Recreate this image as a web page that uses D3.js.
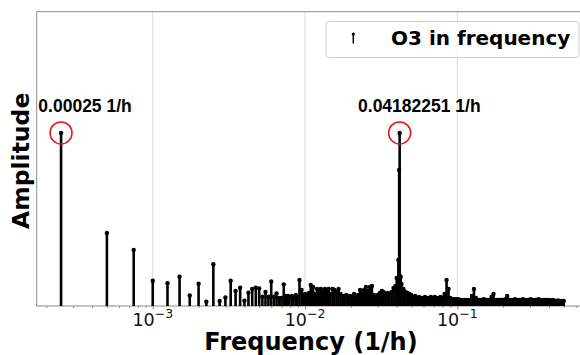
<!DOCTYPE html>
<html>
<head>
<meta charset="utf-8">
<script src="https://cdn.jsdelivr.net/npm/d3@7"></script>
<style>
  html, body { margin: 0; padding: 0; background: #fff; }
  svg { display: block; font-family: "DejaVu Sans", sans-serif; }
</style>
</head>
<body>
<div id="chart"></div>
<script>
// low frequency bins (clearly separated stems)
const lowFreq = [0.00025, 0.0005, 0.00075, 0.001, 0.00125, 0.0015, 0.00175, 0.002, 0.00225, 0.0025,
  0.00275, 0.003, 0.00325, 0.0035, 0.00375, 0.004, 0.00425, 0.0045, 0.00475, 0.005,
  0.00525, 0.0055, 0.00575, 0.006, 0.00625, 0.0065, 0.00675, 0.007, 0.00725];
const lowAmp = [100, 42.2, 32.4, 14.6, 13.1, 16.9, 6.1, 12.9, 2.5, 24.1,
  2.9, 4.9, 14.6, 8.7, 10.6, 3.1, 7.7, 9.8, 10.6, 10.2,
  5.4, 8.1, 5.4, 14.2, 5.4, 7.3, 4.6, 4.6, 12.5];

// dense part of the spectrum
const highFreq = [0.0075, 0.0077, 0.0079, 0.0082, 0.0084, 0.0087, 0.0089, 0.0092, 0.0095, 0.0097,
  0.0100, 0.0103, 0.0106, 0.0109, 0.0113, 0.0116, 0.0120, 0.0123, 0.0127, 0.0131,
  0.0135, 0.0139, 0.0143, 0.0147, 0.0152, 0.0156, 0.0161, 0.0166, 0.0171, 0.0176,
  0.0181, 0.0187, 0.0192, 0.0198, 0.0204, 0.0210, 0.0217, 0.0223, 0.0230, 0.0237,
  0.0244, 0.0251, 0.0259, 0.0267, 0.0275, 0.0283, 0.0292, 0.0300, 0.0310, 0.0319,
  0.0328, 0.0338, 0.0349, 0.0359, 0.0370, 0.0381, 0.0393, 0.0400, 0.0405, 0.0410,
  0.0415, 0.04182251, 0.0420, 0.0425, 0.0430, 0.0443, 0.0456, 0.0470, 0.0484, 0.0498,
  0.0513, 0.0529, 0.0545, 0.0561, 0.0578, 0.0595, 0.0613, 0.0632, 0.0651, 0.0670,
  0.0690, 0.0711, 0.0733, 0.0755, 0.0777, 0.0800, 0.0825, 0.0850, 0.0875, 0.0901,
  0.0928, 0.0956, 0.0985, 0.1015, 0.1045, 0.1077, 0.1109, 0.1142, 0.1177, 0.1212,
  0.1248, 0.1286, 0.1325, 0.1364, 0.1405, 0.1448, 0.1491, 0.1536, 0.1582, 0.1629,
  0.1678, 0.1729, 0.1781, 0.1834, 0.1889, 0.1946, 0.2004, 0.2064, 0.2126, 0.2190,
  0.2256, 0.2324, 0.2393, 0.2465, 0.2539, 0.2615, 0.2694, 0.2775, 0.2858, 0.2944,
  0.3032, 0.3123, 0.3217, 0.3313, 0.3413, 0.3515, 0.3621, 0.3729, 0.3841, 0.3956,
  0.4075, 0.4197, 0.4323, 0.4453, 0.4587, 0.4724, 0.4866, 0.5000];
const highAmp = [5.8, 5.8, 5.2, 5.8, 4.6, 6.4, 5.2, 15.0, 9.2, 5.8,
  6.9, 6.4, 7.5, 12.1, 11.0, 6.9, 9.8, 9.2, 9.8, 8.1,
  9.8, 9.2, 9.8, 6.9, 9.8, 9.2, 8.1, 9.8, 6.9, 5.8,
  5.8, 6.4, 5.2, 5.8, 5.2, 6.9, 5.8, 6.4, 9.2, 6.9,
  9.2, 11.0, 8.7, 11.0, 11.6, 6.4, 5.2, 6.4, 7.5, 8.7,
  8.1, 6.9, 7.5, 6.9, 8.1, 10.4, 11.6, 16.2, 16.2, 26.6,
  78.6, 100, 17.3, 16.8, 12.7, 9.8, 8.1, 7.5, 6.9, 6.4,
  5.2, 5.8, 4.6, 5.2, 4.6, 4.6, 5.2, 4.6, 4.6, 5.2,
  4.6, 5.2, 4.6, 4.6, 5.2, 4.6, 6.9, 15.0, 9.8, 4.6,
  4.0, 4.0, 4.0, 4.0, 3.5, 3.5, 3.5, 3.5, 3.5, 3.5,
  5.8, 9.8, 4.6, 3.5, 3.5, 3.5, 4.0, 3.5, 3.5, 3.5,
  5.2, 6.9, 3.5, 3.5, 3.5, 3.5, 3.5, 4.0, 5.8, 3.5,
  3.5, 3.5, 4.0, 3.5, 3.5, 3.5, 4.0, 3.5, 3.5, 3.5,
  4.0, 3.5, 3.5, 3.5, 4.0, 3.5, 3.5, 3.5, 3.5, 3.5,
  3.2, 3.5, 3.2, 2.9, 3.2, 2.9, 2.9, 2.9];

const peakFreq = [0.00025, 0.04182251];
const peakAmp = [100, 100];
const peakLabel = ["0.00025 1/h", "0.04182251 1/h"];
const xTicks = [1e-3, 1e-2, 1e-1];
const xTickExp = ["\u22123", "\u22122", "\u22121"];
const legendLabel = "O3 in frequency";

const W = 580, H = 355;
const mLeft = 36.7, mTop = 11.7, mRight = 590, mBottom = 306;

const data = lowFreq.map((f, i) => ({ f: f, a: lowAmp[i] }))
  .concat(highFreq.map((f, i) => ({ f: f, a: highAmp[i] })));

const x = d3.scaleLog().domain([1.73e-4, 0.7436]).range([mLeft, mRight]);
const y = d3.scaleLinear().domain([0, 170]).range([mBottom, mTop]);

const svg = d3.select("#chart").append("svg")
  .attr("width", W).attr("height", H);

// grid
svg.append("g").selectAll("line").data(xTicks).join("line")
  .attr("x1", d => x(d)).attr("x2", d => x(d))
  .attr("y1", mTop).attr("y2", mBottom)
  .attr("stroke", "#dcdcdc").attr("stroke-width", 1);

// x axis with minor ticks
const minor = [];
for (let e = -4; e <= 0; e++) for (let m = 2; m <= 9; m++) {
  const v = m * Math.pow(10, e);
  if (v > x.domain()[0] && v < x.domain()[1]) minor.push(v);
}
const xAxis = svg.append("g").attr("transform", `translate(0,${mBottom})`);
xAxis.call(d3.axisBottom(x).tickValues(minor).tickSize(2).tickFormat(""));
xAxis.append("g").call(d3.axisBottom(x).tickValues(xTicks).tickSize(3.5).tickFormat(""));
xAxis.selectAll(".domain").remove();
xAxis.selectAll("line").attr("stroke", "#8a8a8a");

// tick labels 10^n
svg.append("g").selectAll("text").data(xTicks).join("text")
  .attr("x", d => x(d)).attr("y", 325.7)
  .attr("text-anchor", "middle")
  .attr("font-size", 17.5).attr("fill", "#111")
  .each(function(d, i) {
    const t = d3.select(this);
    t.append("tspan").text("10");
    t.append("tspan").attr("dy", -7.5).attr("font-size", 12.5).text(xTickExp[i]);
  });

// spines
svg.append("line").attr("x1", mLeft).attr("x2", mRight).attr("y1", mBottom).attr("y2", mBottom)
  .attr("stroke", "#8a8a8a").attr("stroke-width", 1);
svg.append("line").attr("x1", mLeft).attr("x2", mRight).attr("y1", mTop).attr("y2", mTop)
  .attr("stroke", "#8a8a8a").attr("stroke-width", 1);
svg.append("line").attr("x1", mLeft).attr("x2", mLeft).attr("y1", mTop).attr("y2", mBottom)
  .attr("stroke", "#8a8a8a").attr("stroke-width", 1);

// stems
const stems = svg.append("g");
stems.selectAll("line").data(data).join("line")
  .attr("x1", d => x(d.f)).attr("x2", d => x(d.f))
  .attr("y1", y(0)).attr("y2", d => y(d.a))
  .attr("stroke", "#000").attr("stroke-width", 2.6);
stems.selectAll("circle").data(data).join("circle")
  .attr("cx", d => x(d.f)).attr("cy", d => y(d.a))
  .attr("r", 2.2).attr("fill", "#000");

// peak markers
const offs = [-22.7, -41.6];
svg.append("g").selectAll("circle").data(peakFreq).join("circle")
  .attr("cx", d => x(d)).attr("cy", (d, i) => y(peakAmp[i]))
  .attr("r", 11).attr("fill", "none").attr("stroke", "#e8141a").attr("stroke-width", 1.5);
svg.append("g").selectAll("text").data(peakFreq).join("text")
  .attr("x", (d, i) => x(d) + offs[i]).attr("y", 112.3)
  .attr("font-family", "'Liberation Sans', Arial, sans-serif")
  .attr("font-size", 17.5).attr("font-weight", "bold").attr("fill", "#000")
  .text((d, i) => peakLabel[i]);

// legend
const lg = svg.append("g");
lg.append("rect").attr("x", 326).attr("y", 21.5).attr("width", 253).attr("height", 36)
  .attr("rx", 3).attr("fill", "#fff").attr("fill-opacity", 0.8)
  .attr("stroke", "#d0d0d0").attr("stroke-width", 1);
lg.append("line").attr("x1", 353.3).attr("x2", 353.3).attr("y1", 43.5).attr("y2", 34)
  .attr("stroke", "#000").attr("stroke-width", 1.5);
lg.append("circle").attr("cx", 353.3).attr("cy", 34).attr("r", 1.6).attr("fill", "#000");
lg.append("text").attr("x", 391).attr("y", 45)
  .attr("font-size", 20).attr("font-weight", "bold").attr("fill", "#000")
  .text(legendLabel);

// axis titles
svg.append("text").attr("x", 311).attr("y", 350)
  .attr("text-anchor", "middle").attr("font-size", 24).attr("font-weight", "bold")
  .text("Frequency (1/h)");
svg.append("text")
  .attr("transform", "translate(28.5,160.8) rotate(-90)")
  .attr("text-anchor", "middle").attr("font-size", 23.5).attr("font-weight", "bold")
  .text("Amplitude");
</script>
</body>
</html>
